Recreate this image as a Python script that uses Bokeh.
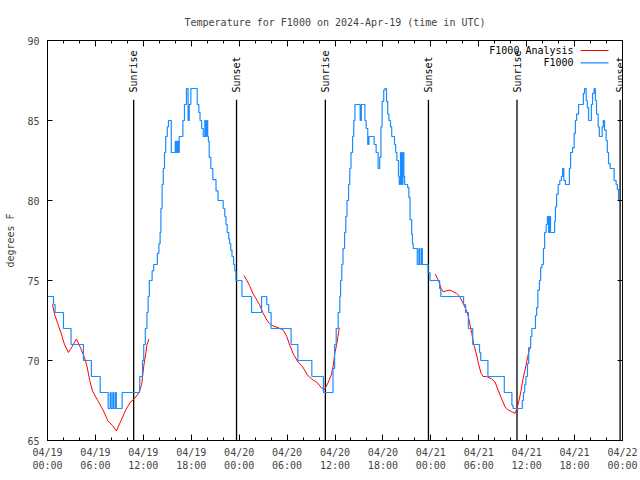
import math
from bokeh.plotting import figure
from bokeh.models import Range1d, FixedTicker, LinearAxis, ColumnDataSource, LabelSet, Label, Arrow
from bokeh.core.properties import value
from bokeh.embed import file_html
from bokeh.resources import INLINE

# ---- data (hours since 2024-04-19 00:00 UTC, degrees F) ----
tick_hours = [0, 6, 12, 18, 24, 30, 36, 42, 48, 54, 60, 66, 72]
tick_labels = ["04/19\n00:00", "04/19\n06:00", "04/19\n12:00", "04/19\n18:00",
               "04/20\n00:00", "04/20\n06:00", "04/20\n12:00", "04/20\n18:00",
               "04/21\n00:00", "04/21\n06:00", "04/21\n12:00", "04/21\n18:00",
               "04/22\n00:00"]
minor_hours = [h for h in range(0, 73, 2)]
y_ticks = [65, 70, 75, 80, 85, 90]

# observed F1000 (step change points)
obs_hours = [0.05, 0.75, 0.95, 2.0, 2.95, 4.5, 5.5, 6.6, 7.6, 7.85, 7.97, 8.18, 8.3, 8.5, 8.62, 9.35,
             11.55, 11.9, 12.05, 12.25, 12.45, 12.6, 12.75, 13.1, 13.3, 13.75, 13.95, 14.1, 14.2, 14.35, 14.5,
             14.65, 14.8, 15.0, 15.15, 15.5, 16.0, 16.12, 16.25, 16.37, 16.5, 16.95, 17.15, 17.4, 17.6, 17.75,
             17.95, 18.75, 18.95, 19.1, 19.3, 19.5, 19.7, 19.82, 19.94, 20.06, 20.15, 20.25, 20.45, 20.7, 21.1,
             21.35, 22.0, 22.2, 22.35, 22.5, 22.7, 22.8, 22.95, 23.1, 23.3, 23.45, 23.6, 24.35, 25.55, 26.8,
             27.45, 27.7, 28.0, 30.5, 31.35, 33.1, 34.55, 35.75, 35.95, 36.15, 36.4, 36.6, 36.7, 36.85, 37.0,
             37.2, 37.35, 37.5, 37.7, 37.85, 38.0, 38.2, 38.35, 38.5, 39.15, 39.3, 39.75, 39.9, 40.1, 40.25,
             40.9, 41.15, 41.4, 41.6, 41.75, 41.9, 42.1, 42.25, 42.45, 42.6, 42.75, 42.95, 43.1, 43.45, 43.6,
             43.75, 43.95, 44.05, 44.2, 44.35, 44.5, 44.62, 44.72, 45.1, 45.25, 45.4, 45.6, 45.7, 45.8, 46.3,
             46.5, 46.62, 46.82, 46.94, 47.65, 47.9, 49.1, 49.25, 52.1, 52.35, 52.7, 53.25, 54.1, 54.25,
             55.15, 57.2, 58.15, 58.3, 59.45, 59.6, 59.75, 59.9, 60.1, 60.25, 60.5, 60.65, 61.1, 61.25, 61.4,
             61.6, 61.75, 61.9, 62.1, 62.25, 62.45, 62.6, 62.75, 62.87, 62.99, 63.5, 63.6, 63.75, 63.95,
             64.15, 64.35, 64.5, 64.65, 64.85, 65.35, 65.5, 65.75, 65.95, 66.1, 66.25, 66.5, 67.1, 67.25,
             67.45, 67.6, 67.75, 68.1, 68.25, 68.45, 68.6, 68.75, 68.95, 69.1, 69.45, 69.6, 69.75, 69.95,
             70.1, 70.25, 70.45, 70.95, 71.2, 71.35, 71.5, 71.55]
obs_temps = [74, 73.5, 73, 72, 71, 70, 69, 68, 67, 68, 67, 68, 67, 68, 67, 68,
             69, 70, 71, 72, 73, 74, 75, 75.6, 76, 76.7, 77.3, 78, 79.5, 81, 82,
             83, 84, 84.6, 85, 83, 83.7, 83, 83.7, 83, 84, 85, 86, 87, 85, 86,
             87, 86, 85.5, 85, 84.5, 84, 85, 84, 85, 84, 83.7, 82.7, 82, 81.3, 80.6,
             80, 79.5, 79, 78.5, 78, 77.6, 77.3, 76.9, 76.5, 76, 75.6, 75, 74, 73, 74,
             73.5, 73, 72, 71, 70, 69, 68, 69.5, 71, 72, 73, 74, 75, 76, 77,
             78, 79, 80, 81, 82, 83, 84, 85, 86, 85, 86, 85, 84.5, 83.5, 84,
             83.5, 83, 82, 82.7, 84.6, 86.2, 86.9, 87, 86.2, 85.4, 85, 84.6, 84, 83.5, 83,
             82.5, 81.5, 81, 83, 81, 83, 81.5, 81, 80.8, 80.2, 78.8, 77.9, 77.3, 77, 76,
             77, 76, 77, 76, 75.5, 75, 74.5, 74, 73.5, 73, 72, 71, 70.5, 70,
             69, 68, 67.2, 67, 67.5, 68, 68.5, 69, 69.8, 70.8, 71.5, 72, 72.8, 73.3, 74.4,
             75, 75.8, 76, 77, 78, 78.5, 79, 78, 79, 78, 78.7, 79.6, 80.4, 81,
             81.25, 81.5, 82, 81.25, 81, 82, 83, 83.3, 84.2, 85, 85.4, 86, 86.7, 87,
             86.25, 85.8, 85, 86, 86.7, 87, 86.25, 85.4, 84.6, 84, 84.6, 85, 84.4, 83.75,
             83, 82.3, 82, 81.25, 81, 80.7, 80, 80]

# F1000 Analysis (three overnight segments)
ana1_hours = [0.625, 0.875, 1.29, 1.71, 2.125, 2.625, 3.125, 3.625, 4.125, 4.625, 4.96, 5.29, 5.625, 6.29,
              6.96, 7.54, 8.125, 8.625, 9.21, 9.79, 10.375, 10.875, 11.46, 11.79, 12.04, 12.29, 12.46, 12.71]
ana1_temps = [73.5, 72.9, 72.3, 71.7, 71.0, 70.5, 70.9, 71.35, 70.8, 70.2, 69.6, 68.75, 68.1, 67.5,
              66.9, 66.25, 65.94, 65.6, 66.25, 66.9, 67.4, 67.6, 68.0, 68.5, 69.6, 70.4, 71.0, 71.35]
ana2_hours = [24.625, 25.29, 25.71, 26.125, 26.54, 26.96, 27.375, 27.79, 28.04, 28.875, 29.54, 29.96,
              30.375, 30.79, 31.375, 31.96, 32.54, 33.04, 33.71, 34.29, 34.71, 35.125, 35.54, 35.79,
              35.96, 36.21, 36.375, 36.54]
ana2_temps = [75.3, 74.7, 74.2, 73.85, 73.5, 73.0, 72.6, 72.3, 72.2, 72.05, 71.9, 71.5,
              70.9, 70.4, 69.9, 69.6, 69.1, 68.85, 68.65, 68.3, 68.2, 68.6, 69.1, 69.7,
              70.4, 71.0, 71.5, 72.05]
ana3_hours = [48.54, 48.96, 49.29, 49.54, 49.96, 50.375, 50.79, 51.21, 51.625, 51.96, 52.29, 52.625,
              52.875, 53.125, 53.375, 53.71, 53.96, 54.29, 54.54, 54.96, 55.625, 56.04, 56.46, 56.875,
              57.29, 57.71, 58.125, 58.54, 58.79, 59.04, 59.29, 59.54, 59.79, 60.04, 60.29, 60.46]
ana3_temps = [75.4, 75.0, 74.5, 74.3, 74.35, 74.4, 74.3, 74.2, 74.0, 73.65, 73.3, 72.9,
              72.3, 71.7, 71.0, 70.4, 69.8, 69.2, 69.0, 69.0, 68.85, 68.65, 68.1, 67.6,
              67.1, 66.9, 66.8, 66.7, 67.0, 67.5, 68.1, 68.85, 69.4, 70.0, 70.6, 70.8]

sun_hours = [10.79, 23.67, 34.79, 47.7, 58.79, 71.7]
sun_events = ["Sunrise", "Sunset", "Sunrise", "Sunset", "Sunrise", "Sunset"]

# ---- styling ----
FONT = "DejaVu Sans Mono"
FS = "10px"
BLUE = "#1a8cff"
RED = "#ff0000"

p = figure(frame_width=575, frame_height=400,
           min_border_left=47, min_border_right=16, min_border_top=40, min_border_bottom=38,
           x_range=Range1d(0, 72), y_range=Range1d(65, 90),
           output_backend="svg", toolbar_location=None,
           title="Temperature for F1000 on 2024-Apr-19 (time in UTC)")
p.title.text_font = FONT
p.title.text_font_size = FS
p.title.text_font_style = "normal"
p.title.align = "center"
p.title.standoff = 26
p.xgrid.visible = False
p.ygrid.visible = False
p.outline_line_color = "black"
p.outline_line_alpha = 1
p.background_fill_color = "white"
p.border_fill_color = "white"

xa = p.xaxis[0]
xa.ticker = FixedTicker(ticks=tick_hours, minor_ticks=minor_hours)
xa.major_label_overrides = {h: lab for h, lab in zip(tick_hours, tick_labels)}
xa.major_tick_in = 6
xa.major_tick_out = 0
xa.minor_tick_in = 3
xa.minor_tick_out = 0
xa.major_label_standoff = 6
xa.major_label_text_font = FONT
xa.major_label_text_font_size = FS
xa.axis_line_color = "black"

ya = p.yaxis[0]
ya.ticker = FixedTicker(ticks=y_ticks, minor_ticks=[])
ya.major_tick_in = 5
ya.major_tick_out = 0
ya.minor_tick_line_color = None
ya.major_label_standoff = 8
ya.major_label_text_font = FONT
ya.major_label_text_font_size = FS
ya.axis_label = "degrees F"
ya.axis_label_text_font = FONT
ya.axis_label_text_font_size = FS
ya.axis_label_text_font_style = "normal"
ya.axis_label_standoff = 8

# mirrored axes (ticks only, empty labels)
top = LinearAxis(ticker=FixedTicker(ticks=tick_hours, minor_ticks=minor_hours),
                 major_tick_in=6, major_tick_out=0, minor_tick_in=3, minor_tick_out=0,
                 major_label_overrides={h: "" for h in tick_hours}, major_label_standoff=0)
right = LinearAxis(ticker=FixedTicker(ticks=y_ticks, minor_ticks=[]),
                   major_tick_in=5, major_tick_out=0, minor_tick_line_color=None,
                   major_label_overrides={t: "" for t in y_ticks}, major_label_standoff=0)
p.add_layout(top, "above")
p.add_layout(right, "right")

# sunrise / sunset markers
p.segment(x0=sun_hours, y0=65, x1=sun_hours, y1=86.3, line_color="black", line_width=1.3)
sun_src = ColumnDataSource(dict(x=sun_hours, y=[86.75] * len(sun_hours), text=sun_events))
p.add_layout(LabelSet(x="x", y="y", text="text", source=sun_src, angle=math.pi / 2,
                      text_align="left", text_baseline="middle",
                      text_font=value(FONT), text_font_size=value(FS), text_color="black"))

# analysis line (segments separated by NaN)
nan = float("nan")
ana_hours = ana1_hours + [nan] + ana2_hours + [nan] + ana3_hours
ana_temps = ana1_temps + [nan] + ana2_temps + [nan] + ana3_temps
p.line(ana_hours, ana_temps, line_color=RED, line_width=1.0)

# observed line
p.step(obs_hours, obs_temps, mode="after", line_color=BLUE, line_width=1.2)

# legend (gnuplot style: text then sample)
for name, col, yy in [("F1000 Analysis", RED, 89.375), ("F1000", BLUE, 88.6)]:
    p.add_layout(Label(x=65.875, y=yy, text=name, text_align="right", text_baseline="middle",
                       text_font=FONT, text_font_size=FS, text_color="black"))
    p.add_layout(Arrow(end=None, x_start=66.75, y_start=yy, x_end=70.25, y_end=yy,
                       line_color=col, line_width=1.2))

open("out.html", "w").write(file_html(p, INLINE))
